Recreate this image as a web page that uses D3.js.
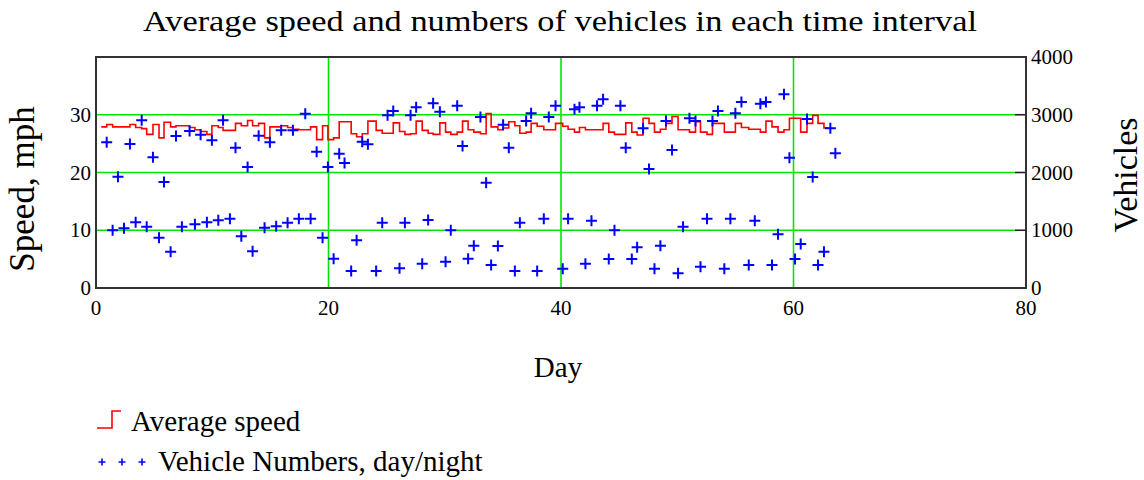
<!DOCTYPE html>
<html><head><meta charset="utf-8">
<script src="https://cdn.jsdelivr.net/npm/d3@7"></script>
<style>
html,body{margin:0;padding:0;background:#fff;}
svg{display:block;}
text{font-family:"Liberation Serif","Times New Roman",serif;fill:#000;}
</style></head>
<body>
<svg id="chart" width="1144" height="480"></svg>
<script>
// ---------- data ----------
const vehicleDays = [
  0.92,1.43,1.89,2.41,2.92,3.41,3.93,4.36,4.9,5.42,
  5.85,6.42,6.88,7.39,8.05,8.51,9.0,9.54,9.97,10.52,
  10.93,11.52,12.0,12.5,13.04,13.47,13.99,14.5,14.96,15.5,
  15.93,16.48,16.94,17.45,18.0,18.46,18.98,19.49,19.95,20.44,
  20.92,21.38,21.95,22.42,22.9,23.39,24.1,24.62,25.08,25.57,
  26.11,26.57,27.06,27.54,28.06,28.57,29.0,29.58,30.07,30.52,
  31.07,31.53,32.01,32.5,33.07,33.56,33.99,34.57,35.02,35.51,
  36.03,36.46,37.0,37.43,37.95,38.52,38.95,39.53,40.15,40.61,
  41.16,41.59,42.1,42.62,43.1,43.62,44.11,44.6,45.11,45.57,
  46.09,46.55,47.06,47.57,48.04,48.55,49.03,49.55,50.07,50.5,
  51.05,51.57,52.0,52.56,53.03,53.5,54.05,54.57,55.0,55.52,
  56.15,56.67,57.15,57.63,58.15,58.67,59.18,59.65,60.13,60.62,
  61.16,61.65,62.11,62.62,63.17,63.6
];
const vehicleCounts = [
  2524,999,1928,1034,2494,1138,2904,1062,2263,871,
  1836,629,2633,1062,2719,1103,2655,1138,2558,1172,
  2904,1200,2430,895,2096,636,2638,1045,2524,1068,
  2731,1131,2731,1200,3019,1200,2361,871,2096,508,
  2326,2165,294,826,2534,2489,294,1131,2991,3066,
  341,1131,2991,3130,421,1178,3199,3054,456,999,
  3158,2459,508,730,2962,1824,398,727,2828,2430,
  294,1131,2892,3026,294,1200,2962,3158,335,1200,
  3095,3130,421,1166,3158,3268,502,999,3158,2430,
  502,705,2766,2061,335,733,2892,2390,254,1062,
  2939,2892,369,1200,2892,3066,335,1200,3026,3222,
  398,1166,3192,3222,398,930,3355,2257,502,762,
  2927,1923,398,629,2766,2333
];
const speedStartDay = 0.45;
const speedValues = [
  27.9,28.3,27.9,27.9,27.9,28.3,27.8,27.6,26.6,28.3,
  26.0,28.7,27.9,28.1,28.1,27.8,27.4,27.1,26.6,28.1,
  27.8,27.3,27.3,28.5,28.1,29.0,28.1,28.5,26.0,27.9,
  27.9,28.1,27.8,27.5,27.4,27.4,27.9,25.7,28.1,25.7,
  26.0,28.8,28.8,26.7,26.2,26.7,28.9,27.3,26.8,26.8,
  28.6,27.1,26.6,26.7,28.9,27.3,26.8,26.6,28.6,27.0,
  26.6,27.0,28.9,27.4,27.0,26.7,30.2,27.9,27.4,27.7,
  28.8,28.1,26.8,27.0,28.5,28.0,27.4,27.4,28.5,28.0,
  27.5,27.0,27.8,27.4,27.4,27.4,28.5,27.0,26.6,26.6,
  28.6,27.0,26.5,29.4,28.5,27.0,27.5,28.5,29.7,27.4,
  27.4,27.0,28.8,27.0,26.6,28.5,28.5,27.0,27.0,28.5,
  27.8,27.5,27.5,27.0,28.9,27.9,27.0,27.4,29.4,29.4,
  27.0,28.5,29.9,28.5,27.7,27.7
];
const dayTicks = [0,20,40,60,80];
const speedTicks = [0,10,20,30];
const speedGrid = [10,20,30];
const vehicleTicks = [0,1000,2000,3000,4000];
const titleText = "Average speed and numbers of vehicles in each time interval";
const xLabel = "Day";
const yLeftLabel = "Speed, mph";
const yRightLabel = "Vehicles";
const legendLabels = ["Average speed","Vehicle Numbers, day/night"];

// ---------- layout ----------
const L = 96, R = 1026, T = 57, B = 288;
const svg = d3.select("#chart");
const x = d3.scaleLinear().domain([0,80]).range([L,R]);
const ySp = d3.scaleLinear().domain([0,40]).range([B,T]);
const yVe = d3.scaleLinear().domain([0,4000]).range([B,T]);

const green = "#00e600";
// grid
const g = svg.append("g");
g.selectAll(".hg").data(speedGrid).join("line")
  .attr("x1",L).attr("x2",R-11).attr("y1",d=>ySp(d)).attr("y2",d=>ySp(d))
  .attr("stroke",green).attr("stroke-width",1.6);
g.selectAll(".vg").data(dayTicks.filter(d=>d>0&&d<80)).join("line")
  .attr("y1",T).attr("y2",B).attr("x1",d=>x(d)).attr("x2",d=>x(d))
  .attr("stroke",green).attr("stroke-width",1.6);

// right axis inward ticks
g.selectAll(".rt").data(vehicleTicks.filter(d=>d>0&&d<4000)).join("line")
  .attr("x1",R-11).attr("x2",R).attr("y1",d=>yVe(d)).attr("y2",d=>yVe(d))
  .attr("stroke","#222").attr("stroke-width",1.6);

// speed step line
const speedDays = [speedStartDay].concat(vehicleDays.slice(0, speedValues.length-1));
const speedData = d3.zip(speedDays, speedValues);
svg.append("path")
  .datum(speedData)
  .attr("fill","none").attr("stroke","#ff0000").attr("stroke-width",1.6)
  .attr("d", d3.line().x(d=>x(d[0])).y(d=>ySp(d[1])).curve(d3.curveStepAfter));

// vehicle crosses
const vehData = d3.zip(vehicleDays, vehicleCounts);
const cs = 5.5;
svg.append("g").selectAll("path").data(vehData).join("path")
  .attr("d", d=>{const px=x(d[0]), py=yVe(d[1]);
    return `M${px-cs},${py}H${px+cs}M${px},${py-cs}V${py+cs}`;})
  .attr("stroke","#0000ff").attr("stroke-width",2).attr("fill","none");

// frame
svg.append("rect").attr("x",L).attr("y",T).attr("width",R-L).attr("height",B-T)
  .attr("fill","none").attr("stroke","#333").attr("stroke-width",2);

// axes labels
const fs = 21;
svg.append("g").selectAll("text").data(dayTicks).join("text")
  .attr("x",d=>x(d)).attr("y",B+27).attr("text-anchor","middle")
  .attr("font-size",fs).text(d=>d);
svg.append("g").selectAll("text").data(speedTicks).join("text")
  .attr("x",L-5).attr("y",d=>ySp(d)+7).attr("text-anchor","end")
  .attr("font-size",fs).text(d=>d);
svg.append("g").selectAll("text").data(vehicleTicks).join("text")
  .attr("x",R+5).attr("y",d=>yVe(d)+7).attr("text-anchor","start")
  .attr("font-size",fs).text(d=>d);

// titles
svg.append("text").attr("x",560).attr("y",31).attr("text-anchor","middle")
  .attr("font-size",29).attr("textLength",834).attr("lengthAdjust","spacingAndGlyphs").text(titleText);
svg.append("text").attr("x",558).attr("y",377).attr("text-anchor","middle")
  .attr("font-size",29).text(xLabel);
svg.append("text").attr("transform","translate(34,189) rotate(-90)").attr("text-anchor","middle")
  .attr("font-size",35).text(yLeftLabel);
svg.append("text").attr("transform","translate(1137,175) rotate(-90)").attr("text-anchor","middle")
  .attr("font-size",34).text(yRightLabel);

// legend
svg.append("path").attr("d","M97,428H112V411H121").attr("fill","none")
  .attr("stroke","#ff0000").attr("stroke-width",1.6);
svg.append("text").attr("x",131).attr("y",431).attr("font-size",29).text(legendLabels[0]);
const ls = 3.5;
svg.append("g").selectAll("path").data([0,1,2]).join("path")
  .attr("d",i=>{const px=102+i*20, py=462; return `M${px-ls},${py}H${px+ls}M${px},${py-ls}V${py+ls}`;})
  .attr("stroke","#0000ff").attr("stroke-width",1.6);
svg.append("text").attr("x",158).attr("y",471).attr("font-size",29).text(legendLabels[1]);
</script>
</body></html>
